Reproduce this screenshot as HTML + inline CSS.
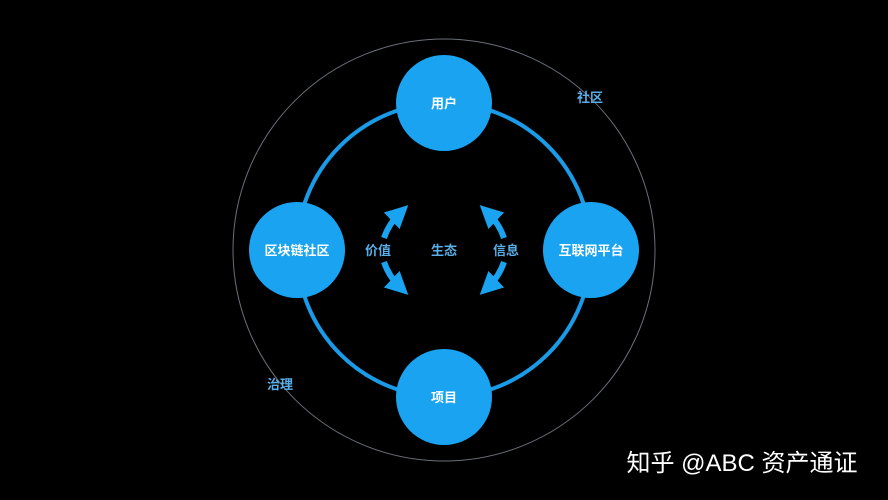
<!DOCTYPE html>
<html><head><meta charset="utf-8"><style>
html,body{margin:0;padding:0;background:#000;}
body{width:888px;height:500px;overflow:hidden;position:relative;font-family:"Liberation Sans","Noto Sans CJK SC",sans-serif;}
svg{position:absolute;left:0;top:0;}
</style></head><body>
<svg width="888" height="500" viewBox="0 0 888 500" xmlns="http://www.w3.org/2000/svg">
<defs>
<marker id="ah" viewBox="0 0 10 10" refX="5" refY="5" markerWidth="3.8" markerHeight="3.8" orient="auto">
<path d="M0,0 L10,5 L0,10 z" fill="#1aa3f0"/>
</marker>
</defs>
<rect width="888" height="500" fill="#000"/>
<circle cx="444" cy="250" r="211" fill="none" stroke="#6a6f78" stroke-width="1"/>
<circle cx="444" cy="250" r="147" fill="none" stroke="#1a9be8" stroke-width="4"/>
<g fill="#1aa3f0">
<circle cx="444" cy="103" r="48"/>
<circle cx="444" cy="397" r="48"/>
<circle cx="297" cy="250" r="48"/>
<circle cx="591" cy="250" r="48"/>
</g>
<g fill="none" stroke="#1aa3f0" stroke-width="6">
<path d="M384,238 A62,62 0 0 1 400,213" marker-end="url(#ah)"/>
<path d="M384,262 A62,62 0 0 0 400,287" marker-end="url(#ah)"/>
<path d="M504,238 A62,62 0 0 0 488,213" marker-end="url(#ah)"/>
<path d="M504,262 A62,62 0 0 1 488,287" marker-end="url(#ah)"/>
</g>
<g font-family="Liberation Sans, Noto Sans CJK SC, sans-serif" font-size="13" font-weight="bold" text-anchor="middle" fill="#fff">
<text x="444" y="108">用户</text>
<text x="444" y="402">项目</text>
<text x="297" y="255">区块链社区</text>
<text x="591" y="255">互联网平台</text>
</g>
<g font-family="Liberation Sans, Noto Sans CJK SC, sans-serif" font-size="13" font-weight="bold" text-anchor="middle" fill="#5aaee8">
<text x="378" y="255">价值</text>
<text x="444" y="255">生态</text>
<text x="506" y="255">信息</text>
<text x="590" y="102">社区</text>
<text x="280" y="389">治理</text>
</g>
<text x="742" y="471" font-family="Liberation Sans, Noto Sans CJK SC, sans-serif" font-size="24" text-anchor="middle" fill="#fff">知乎 @ABC 资产通证</text>
</svg>
</body></html>
